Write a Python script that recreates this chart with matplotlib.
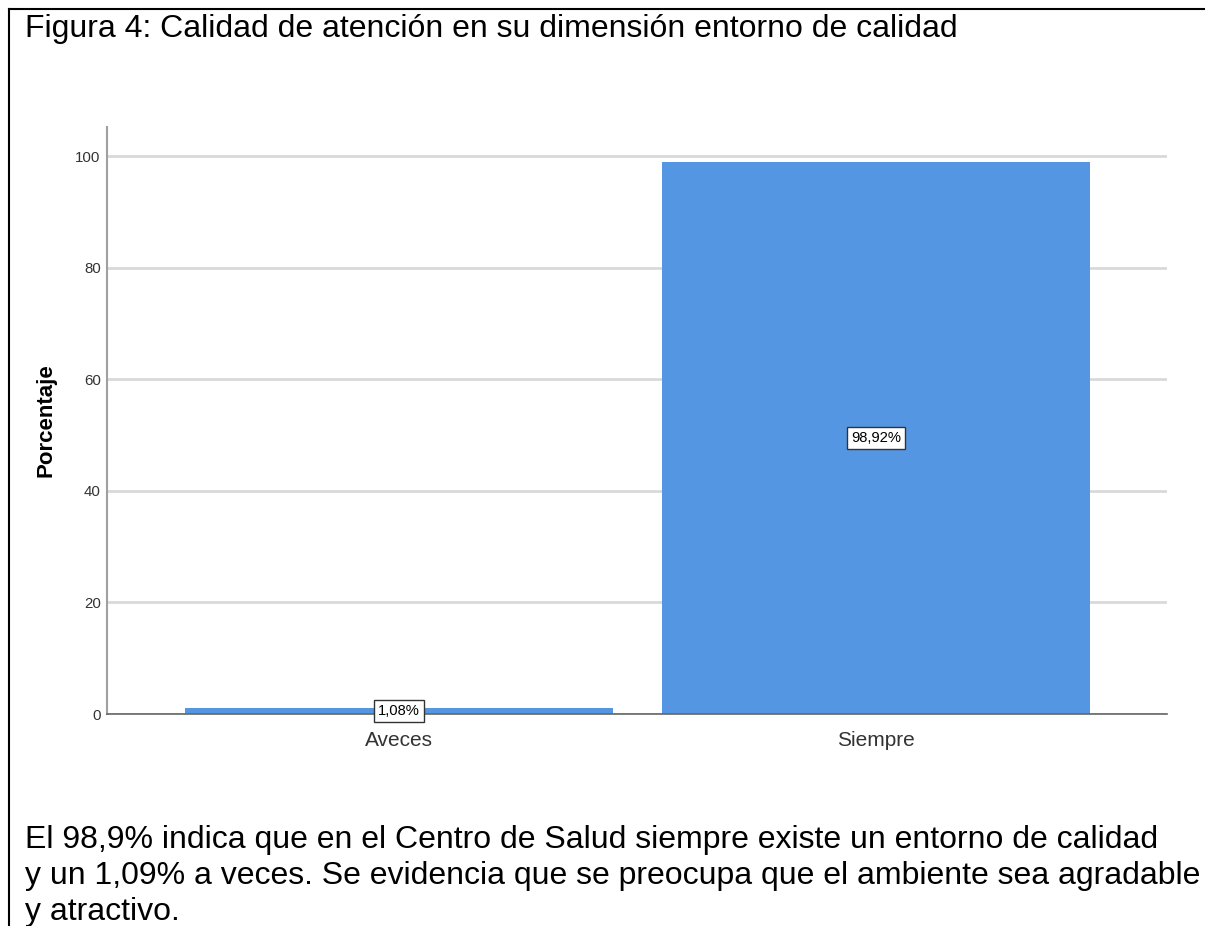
import numpy as np
import matplotlib.pyplot as plt
from matplotlib.lines import Line2D

categorias = ['Aveces', 'Siempre']
porcentajes = [1.08, 98.92]
etiquetas = ['1,08%', '98,92%']
yticks = [0, 20, 40, 60, 80, 100]

titulo = 'Figura 4: Calidad de atención en su dimensión entorno de calidad'
lineas = ['El 98,9% indica que en el Centro de Salud siempre existe un entorno de calidad',
          'y un 1,09% a veces. Se evidencia que se preocupa que el ambiente sea agradable',
          'y atractivo.']

plt.rcParams['font.family'] = ['Liberation Sans', 'DejaVu Sans']

W, H = 1205, 926
fig = plt.figure(figsize=(W / 100, H / 100), dpi=100)
ax = fig.add_axes([107 / W, 1 - 714 / H, 1060 / W, 587 / H])

x = np.arange(len(categorias))
ax.bar(x, porcentajes, width=0.897, color='#5596E3', zorder=3)
ax.set_xlim(-0.612, 1.61)
ax.set_ylim(0, 105.2)
ax.set_yticks(yticks)
ax.set_xticks(x)
ax.set_xticklabels(categorias, fontsize=15, color='#333333')
ax.tick_params(axis='y', length=0, labelsize=10.8, labelcolor='#333333', pad=4.5)
ax.tick_params(axis='x', length=0, pad=12)
ax.yaxis.grid(True, color='#D9D9D9', linewidth=2, zorder=0)
ax.set_axisbelow(True)
for s in ['top', 'right']:
    ax.spines[s].set_visible(False)
ax.spines['left'].set_color('#A0A0A0')
ax.spines['left'].set_linewidth(1.5)
ax.spines['bottom'].set_color('#666666')
ax.spines['bottom'].set_linewidth(1.2)
ax.spines['bottom'].set_zorder(4)
ax.set_ylabel('Porcentaje', fontsize=16, fontweight='bold')
ax.yaxis.set_label_coords(-50 / 1060, 0.5)

for xi, v, lab in zip(x, porcentajes, etiquetas):
    ax.text(xi, v / 2, lab, ha='center', va='center', fontsize=10.6, zorder=5,
            bbox=dict(boxstyle='square,pad=0.25', facecolor='white',
                      edgecolor='#333333', linewidth=1))

fig.text(25 / W, 1 - 37 / H, titulo, fontsize=23, ha='left', va='baseline')
for i, linea in enumerate(lineas):
    fig.text(25 / W, 1 - (848 + 36 * i) / H, linea, fontsize=23,
             ha='left', va='baseline')

fig.add_artist(Line2D([9 / W, 1], [1 - 9 / H, 1 - 9 / H],
                      color='black', linewidth=1.5, transform=fig.transFigure))
fig.add_artist(Line2D([9 / W, 9 / W], [0, 1 - 9 / H],
                      color='black', linewidth=1.5, transform=fig.transFigure))

fig.savefig('out.png', dpi=100)
